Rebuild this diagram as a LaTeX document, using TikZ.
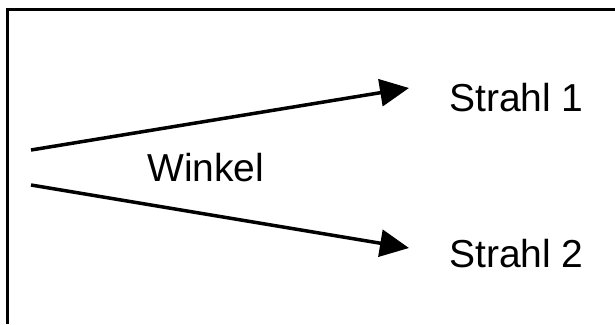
\documentclass[tikz,border=0pt]{standalone}
\usepackage{fontspec}
\setmainfont{Liberation Sans}
\usetikzlibrary{arrows.meta}
\begin{document}
\begin{tikzpicture}[x=1pt,y=-1pt,
  ray/.style={line width=3.5pt,-{Triangle[length=29pt,width=27pt]}},
  lbl/.style={anchor=base west,inner sep=0pt,font=\fontsize{39}{41}\selectfont},
  frame/.style={line width=3pt}]
\useasboundingbox (0,0) rectangle (615,324);
\coordinate (tl) at (7,9);
\coordinate (tr) at (615,9);
\coordinate (bl) at (7,324);
\draw[frame] (tr) -- (tl) -- (bl);
\coordinate (o1) at (31,150);
\coordinate (o2) at (31,185);
\coordinate (t1) at (409,88);
\coordinate (t2) at (409,248);
\draw[ray] (o1) -- (t1);
\draw[ray] (o2) -- (t2);
\node[lbl] (s1) at (449,111) {Strahl 1};
\node[lbl] (s2) at (449,267) {Strahl 2};
\node[lbl] (w) at (147,181) {Winkel};
\end{tikzpicture}
\end{document}
